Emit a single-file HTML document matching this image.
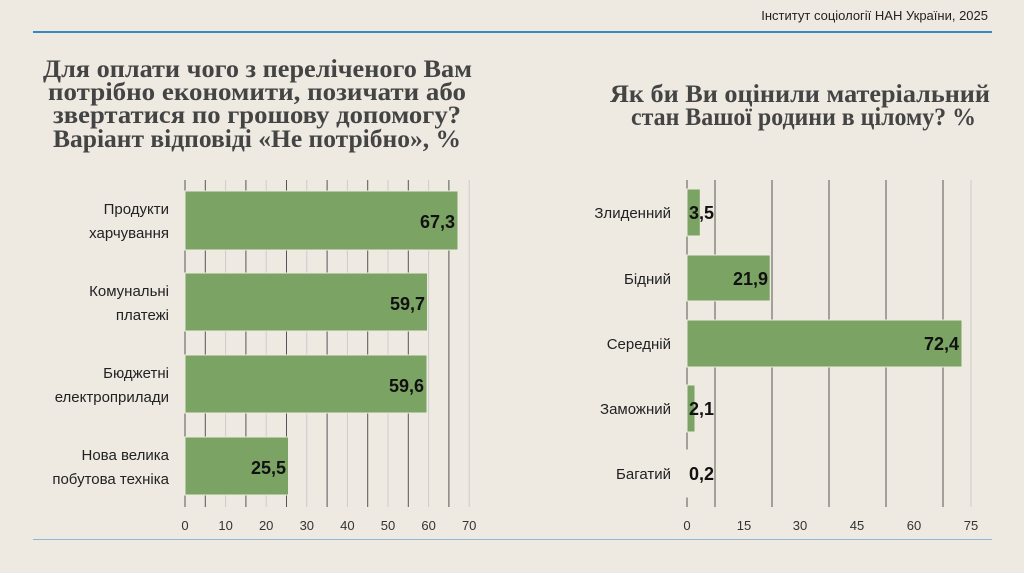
<!DOCTYPE html>
<html><head><meta charset="utf-8"><style>
body{margin:0;width:1024px;height:568px;background:#eeeae1;overflow:hidden;font-family:"Liberation Sans","DejaVu Sans",sans-serif}
</style></head><body>
<svg width="1024" height="568" xmlns="http://www.w3.org/2000/svg" font-family="Liberation Sans, DejaVu Sans, sans-serif">
<text x="988" y="20" text-anchor="end" font-size="13" fill="#222">Інститут соціології НАН України, 2025</text>
<line x1="33" y1="32" x2="992" y2="32" stroke="#3a86c0" stroke-width="2"/>
<line x1="33" y1="539.5" x2="992" y2="539.5" stroke="#8fb8d6" stroke-width="1"/>
<g font-family="Liberation Serif, DejaVu Serif, serif" font-weight="bold" font-size="25" fill="#444" lengthAdjust="spacingAndGlyphs">
<text x="43" y="77" textLength="429" lengthAdjust="spacingAndGlyphs">Для оплати чого з переліченого Вам</text>
<text x="48" y="100" textLength="418" lengthAdjust="spacingAndGlyphs">потрібно економити, позичати або</text>
<text x="53" y="123" textLength="408" lengthAdjust="spacingAndGlyphs">звертатися по грошову допомогу?</text>
<text x="53" y="147" textLength="408" lengthAdjust="spacingAndGlyphs">Варіант відповіді «Не потрібно», %</text>
<text x="610" y="102" textLength="380" lengthAdjust="spacingAndGlyphs">Як би Ви оцінили матеріальний</text>
<text x="631" y="125" textLength="345" lengthAdjust="spacingAndGlyphs">стан Вашої родини в цілому? %</text>
</g>
<g stroke-width="1">
<line x1="185" y1="180" x2="185" y2="507" stroke="#555"/>
<line x1="205.3" y1="180" x2="205.3" y2="507" stroke="#555"/>
<line x1="225.6" y1="180" x2="225.6" y2="507" stroke="#ccc"/>
<line x1="245.9" y1="180" x2="245.9" y2="507" stroke="#555"/>
<line x1="266.2" y1="180" x2="266.2" y2="507" stroke="#ccc"/>
<line x1="286.5" y1="180" x2="286.5" y2="507" stroke="#555"/>
<line x1="306.8" y1="180" x2="306.8" y2="507" stroke="#ccc"/>
<line x1="327.1" y1="180" x2="327.1" y2="507" stroke="#555"/>
<line x1="347.4" y1="180" x2="347.4" y2="507" stroke="#ccc"/>
<line x1="367.7" y1="180" x2="367.7" y2="507" stroke="#555"/>
<line x1="388" y1="180" x2="388" y2="507" stroke="#ccc"/>
<line x1="408.3" y1="180" x2="408.3" y2="507" stroke="#555"/>
<line x1="428.6" y1="180" x2="428.6" y2="507" stroke="#ccc"/>
<line x1="448.9" y1="180" x2="448.9" y2="507" stroke="#555"/>
<line x1="469.2" y1="180" x2="469.2" y2="507" stroke="#ccc"/>
</g>
<g fill="#7ba363" stroke="#eeeae1" stroke-width="1">
<rect x="185" y="191" width="273" height="59"/>
<rect x="185" y="273" width="242.5" height="58"/>
<rect x="185" y="355" width="242" height="58"/>
<rect x="185" y="437" width="103.5" height="58"/>
</g>
<g font-weight="bold" font-size="18" fill="#111" text-anchor="end">
<text x="455" y="228">67,3</text><text x="425" y="310">59,7</text><text x="424" y="392">59,6</text><text x="286" y="474">25,5</text>
</g>
<g font-size="15" fill="#222" text-anchor="end">
<text x="169" y="214">Продукти</text><text x="169" y="238">харчування</text>
<text x="169" y="296">Комунальні</text><text x="169" y="320">платежі</text>
<text x="169" y="378">Бюджетні</text><text x="169" y="402">електроприлади</text>
<text x="169" y="460">Нова велика</text><text x="169" y="484">побутова техніка</text>
</g>
<g font-size="13" fill="#333" text-anchor="middle">
<text x="185" y="530">0</text><text x="225.6" y="530">10</text><text x="266.2" y="530">20</text><text x="306.8" y="530">30</text><text x="347.4" y="530">40</text><text x="388" y="530">50</text><text x="428.6" y="530">60</text><text x="469.2" y="530">70</text>
</g>
<g stroke="#555" stroke-width="1">
<line x1="687" y1="180" x2="687" y2="507"/>
<line x1="715" y1="180" x2="715" y2="507"/>
<line x1="772" y1="180" x2="772" y2="507"/>
<line x1="829" y1="180" x2="829" y2="507"/>
<line x1="886" y1="180" x2="886" y2="507"/>
<line x1="943" y1="180" x2="943" y2="507"/>
<line x1="971" y1="180" x2="971" y2="507" stroke="#ccc"/>
</g>
<g fill="#7ba363" stroke="#eeeae1" stroke-width="1">
<rect x="687" y="189" width="13.3" height="47"/>
<rect x="687" y="255" width="83.2" height="46"/>
<rect x="687" y="320" width="275" height="47"/>
<rect x="687" y="385" width="8" height="47"/>
<rect x="687" y="450" width="1" height="47"/>
</g>
<g font-weight="bold" font-size="18" fill="#111">
<text x="689" y="219">3,5</text><text x="768" y="285" text-anchor="end">21,9</text><text x="959" y="350" text-anchor="end">72,4</text><text x="689" y="415">2,1</text><text x="689" y="480">0,2</text>
</g>
<g font-size="15" fill="#222" text-anchor="end">
<text x="671" y="218">Злиденний</text><text x="671" y="284">Бідний</text><text x="671" y="349">Середній</text><text x="671" y="414">Заможний</text><text x="671" y="479">Багатий</text>
</g>
<g font-size="13" fill="#333" text-anchor="middle">
<text x="687" y="530">0</text><text x="744" y="530">15</text><text x="800" y="530">30</text><text x="857" y="530">45</text><text x="914" y="530">60</text><text x="971" y="530">75</text>
</g>
</svg>
</body></html>
